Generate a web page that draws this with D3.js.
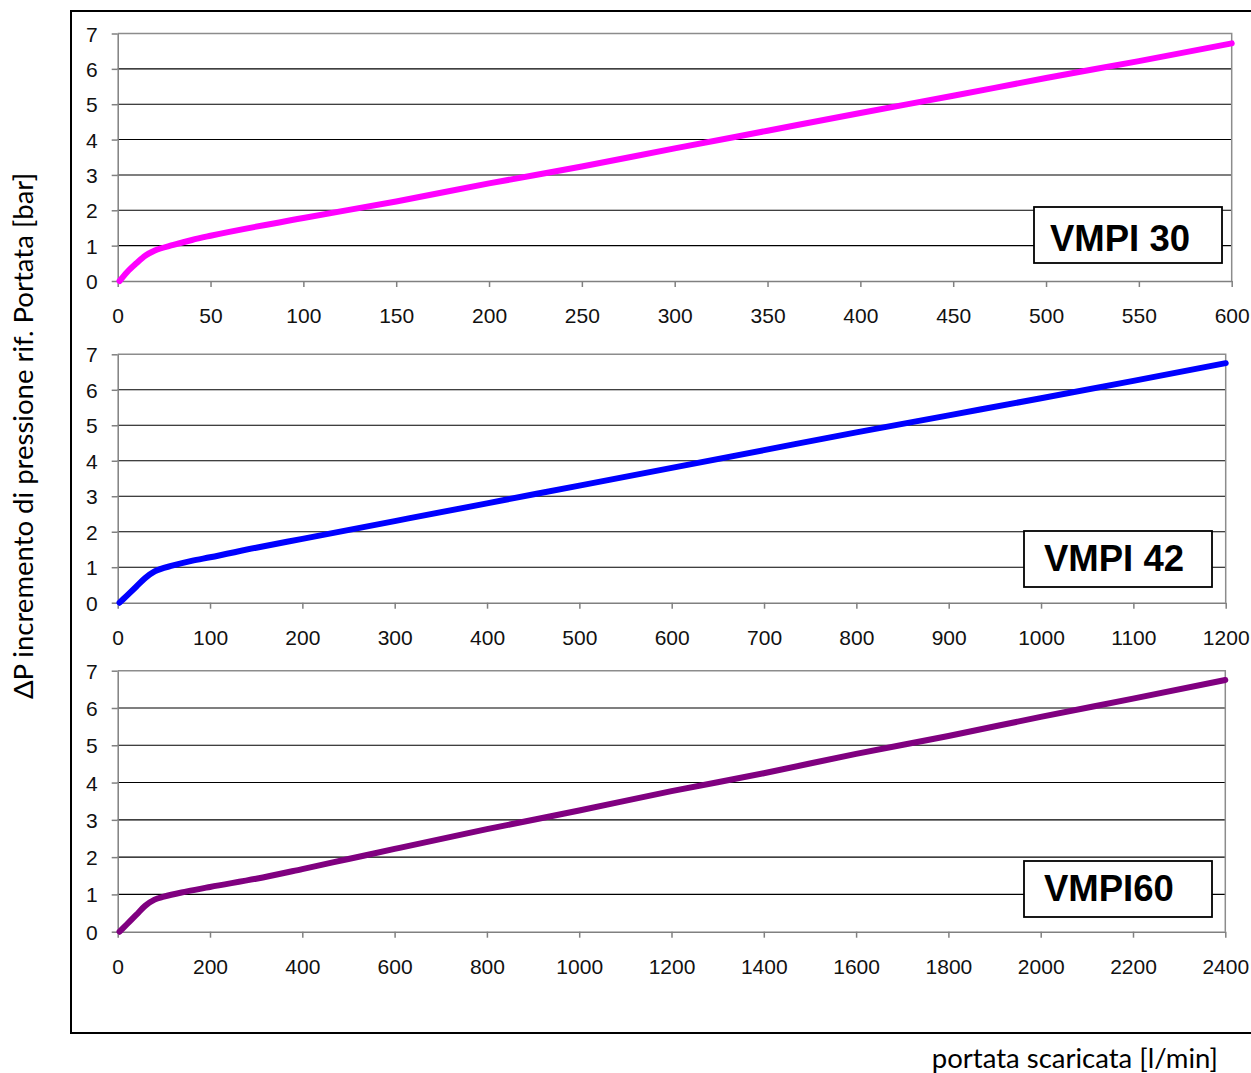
<!DOCTYPE html>
<html>
<head>
<meta charset="utf-8">
<script src="https://cdn.jsdelivr.net/npm/d3@7"></script>
<style>
  html, body { margin: 0; padding: 0; background: #fff; }
  svg { display: block; }
</style>
</head>
<body>
<svg id="chart" width="1251" height="1073"></svg>
<script>
// ---------------- DATA ----------------
const seriesNames = ["VMPI 30", "VMPI 42", "VMPI60"];
const yTicks = [0, 1, 2, 3, 4, 5, 6, 7];

const xTicks30 = [0, 50, 100, 150, 200, 250, 300, 350, 400, 450, 500, 550, 600];
const xTicks42 = [0, 100, 200, 300, 400, 500, 600, 700, 800, 900, 1000, 1100, 1200];
const xTicks60 = [0, 200, 400, 600, 800, 1000, 1200, 1400, 1600, 1800, 2000, 2200, 2400];

const vmpi30Flow = [1, 5, 10, 15, 20, 30, 40, 50, 100, 150, 200, 250, 300, 350, 400, 450, 500, 550, 600];
const vmpi30Dp   = [0, 0.25, 0.5, 0.72, 0.86, 1.02, 1.16, 1.28, 1.78, 2.25, 2.76, 3.24, 3.75, 4.25, 4.75, 5.24, 5.74, 6.22, 6.72];

const vmpi42Flow = [2, 10, 20, 30, 40, 60, 80, 100, 150, 200, 300, 400, 500, 600, 700, 800, 900, 1000, 1100, 1200];
const vmpi42Dp   = [0, 0.2, 0.45, 0.7, 0.88, 1.05, 1.18, 1.28, 1.55, 1.8, 2.3, 2.8, 3.3, 3.8, 4.3, 4.8, 5.28, 5.76, 6.25, 6.75];

const vmpi60Flow = [4, 20, 40, 60, 80, 100, 150, 200, 300, 400, 500, 600, 800, 1000, 1200, 1400, 1600, 1800, 2000, 2200, 2400];
const vmpi60Dp   = [0, 0.2, 0.45, 0.7, 0.86, 0.94, 1.08, 1.2, 1.42, 1.68, 1.95, 2.22, 2.75, 3.25, 3.77, 4.25, 4.77, 5.25, 5.76, 6.25, 6.75];

const seriesColors = ["#ff00ff", "#0000ff", "#800080"];
const yTitle = "ΔP incremento di pressione rif. Portata [bar]";
const xTitle = "portata scaricata [l/min]";

// ---------------- LAYOUT ----------------
const panels = [
  { name: seriesNames[0], flow: vmpi30Flow, dp: vmpi30Dp, xTicks: xTicks30, color: seriesColors[0],
    left: 117.7, right: 1231.7, top: 33.5, bottom: 281,
    box: { x: 1034, y: 207, w: 188, h: 56, tx: 16, ty: 43.5 } },
  { name: seriesNames[1], flow: vmpi42Flow, dp: vmpi42Dp, xTicks: xTicks42, color: seriesColors[1],
    left: 117.7, right: 1225.7, top: 354.3, bottom: 602.7,
    box: { x: 1024, y: 531, w: 188, h: 56, tx: 20, ty: 39.7 } },
  { name: seriesNames[2], flow: vmpi60Flow, dp: vmpi60Dp, xTicks: xTicks60, color: seriesColors[2],
    left: 117.7, right: 1225.3, top: 670.7, bottom: 931.7,
    box: { x: 1024, y: 861, w: 188, h: 56, tx: 20, ty: 39.5 } }
];

const svg = d3.select("#chart");

// outer frame
svg.append("rect")
  .attr("x", 71).attr("y", 11)
  .attr("width", 1300).attr("height", 1022)
  .attr("fill", "none").attr("stroke", "#000").attr("stroke-width", 2);

const tickFont = "'Liberation Sans', Arial, sans-serif";
const fmt = d3.format("d");

panels.forEach(p => {
  const xs = d3.scaleLinear().domain([0, p.xTicks[p.xTicks.length - 1]]).range([p.left, p.right]);
  const ys = d3.scaleLinear().domain([0, 7]).range([p.bottom, p.top]);
  const g = svg.append("g");

  // gridlines
  g.selectAll("line.grid").data(yTicks.filter(v => v > 0 && v < 7)).enter()
    .append("line").attr("class", "grid")
    .attr("x1", p.left).attr("x2", p.right)
    .attr("y1", d => ys(d)).attr("y2", d => ys(d))
    .attr("stroke", "#000").attr("stroke-width", 1.1);

  // top & right border (gray)
  g.append("path")
    .attr("d", `M${p.left},${ys(7)}H${p.right}V${p.bottom}`)
    .attr("fill", "none").attr("stroke", "#8c8c8c").attr("stroke-width", 1.5);

  // y axis
  const yAxis = d3.axisLeft(ys).tickValues(yTicks).tickFormat(fmt).tickSize(6).tickPadding(14).tickSizeOuter(0);
  const ya = g.append("g").attr("transform", `translate(${p.left},0)`).call(yAxis);
  ya.select(".domain").attr("stroke", "#808080").attr("stroke-width", 1.5);
  ya.selectAll(".tick line").attr("stroke", "#808080").attr("stroke-width", 1.5);
  ya.selectAll(".tick text")
    .attr("font-family", tickFont).attr("font-size", 21).attr("fill", "#111")
    .attr("dy", "0.36em");

  // x axis
  const xAxis = d3.axisBottom(xs).tickValues(p.xTicks).tickFormat(fmt).tickSize(6).tickSizeOuter(0);
  const xa = g.append("g").attr("transform", `translate(0,${p.bottom})`).call(xAxis);
  xa.select(".domain").attr("stroke", "#808080").attr("stroke-width", 1.5);
  xa.selectAll(".tick line").attr("stroke", "#808080").attr("stroke-width", 1.5);
  xa.selectAll(".tick text")
    .attr("font-family", tickFont).attr("font-size", 21).attr("fill", "#111")
    .attr("y", 42).attr("dy", 0);

  // curve
  const pts = p.flow.map((f, i) => [f, p.dp[i]]);
  g.append("path")
    .datum(pts)
    .attr("d", d3.line().x(d => xs(d[0])).y(d => ys(d[1])).curve(d3.curveMonotoneX))
    .attr("fill", "none").attr("stroke", p.color).attr("stroke-width", 6)
    .attr("stroke-linecap", "round").attr("stroke-linejoin", "round");

  // label box
  g.append("rect")
    .attr("x", p.box.x).attr("y", p.box.y).attr("width", p.box.w).attr("height", p.box.h)
    .attr("fill", "#fff").attr("stroke", "#000").attr("stroke-width", 1.8);
  g.append("text")
    .attr("x", p.box.x + p.box.tx).attr("y", p.box.y + p.box.ty)
    .attr("font-family", tickFont).attr("font-weight", "bold").attr("font-size", 36.5)
    .attr("fill", "#000")
    .text(p.name);
});

// axis titles
svg.append("text")
  .attr("transform", "translate(33,436) rotate(-90)")
  .attr("text-anchor", "middle")
  .attr("font-family", "Lato, 'Open Sans', sans-serif").attr("font-size", 27.5)
  .attr("fill", "#000")
  .text(yTitle);

svg.append("text")
  .attr("x", 1218).attr("y", 1068)
  .attr("text-anchor", "end")
  .attr("font-family", "Lato, 'Open Sans', sans-serif").attr("font-size", 27.5)
  .attr("fill", "#000")
  .text(xTitle);
</script>
</body>
</html>
